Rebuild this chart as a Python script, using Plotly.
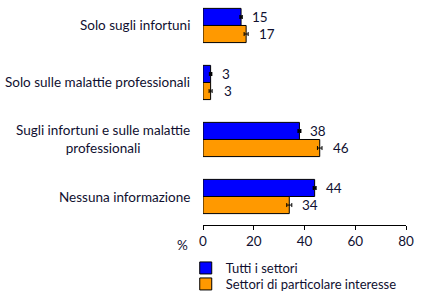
import plotly.graph_objects as go

categories = ["Solo sugli infortuni", "Solo sulle malattie professionali",
              "Sugli infortuni e sulle malattie<br>professionali", "Nessuna informazione"]
tutti = [15, 3, 38, 44]
tutti_err = [0.4, 0.4, 0.5, 0.5]
particolare = [17, 3, 46, 34]
particolare_err = [0.8, 0.6, 0.9, 1.0]
series_names = ["Tutti i settori", "Settori di particolare interesse"]
x_ticks = [0, 20, 40, 60, 80]

FONT = "Lato"
TXT = "#101030"
FS = 13.5
pos = list(range(len(categories)))

fig = go.Figure()
fig.add_trace(go.Bar(
    y=pos, x=tutti, orientation="h", name=series_names[0], legend="legend",
    marker=dict(color="#0000FF", line=dict(color="black", width=1)),
    error_x=dict(type="data", array=tutti_err, color="black", thickness=1.5, width=2),
))
fig.add_trace(go.Bar(
    y=pos, x=particolare, orientation="h", name=series_names[1], legend="legend2",
    marker=dict(color="#FF9900", line=dict(color="black", width=1)),
    error_x=dict(type="data", array=particolare_err, color="black", thickness=1, width=2),
))

ann = []
for i, (a, b) in enumerate(zip(tutti, particolare)):
    ann.append(dict(x=a, y=i - 0.15, xref="x", yref="y", text=str(a), showarrow=False,
                    xanchor="left", xshift=9, font=dict(family=FONT, size=FS, color=TXT)))
    ann.append(dict(x=b, y=i + 0.15, xref="x", yref="y", text=str(b), showarrow=False,
                    xanchor="left", xshift=11, font=dict(family=FONT, size=FS, color=TXT)))
for i, c in enumerate(categories):
    ann.append(dict(x=0, y=i, xref="paper", yref="y", text=c, showarrow=False,
                    xanchor="right", xshift=-11, align="center",
                    font=dict(family=FONT, size=FS, color=TXT)))
ann.append(dict(x=0, y=0, xref="paper", yref="paper", text="%", showarrow=False,
                xanchor="right", yanchor="top", xshift=-13, yshift=-10,
                font=dict(family=FONT, size=FS, color=TXT)))

leg_common = dict(xref="paper", yref="container", xanchor="left", yanchor="middle",
                  font=dict(family=FONT, size=13, color=TXT), itemwidth=30,
                  bgcolor="rgba(0,0,0,0)", borderwidth=0)

fig.update_layout(
    width=422, height=292,
    margin=dict(l=203, r=16, t=0, b=67, autoexpand=False),
    paper_bgcolor="white", plot_bgcolor="white",
    barmode="group", bargap=0.4, bargroupgap=0,
    font=dict(family=FONT, size=FS, color=TXT),
    showlegend=True,
    legend=dict(x=-0.085, y=1 - 268 / 292, **leg_common),
    legend2=dict(x=-0.085, y=1 - 284 / 292, **leg_common),
    annotations=ann,
    xaxis=dict(range=[0, 80], tickvals=x_ticks, showgrid=False, zeroline=False,
               showline=True, linecolor="black", linewidth=1,
               ticks="outside", ticklen=4, tickcolor="black",
               tickfont=dict(family=FONT, size=FS, color=TXT)),
    yaxis=dict(range=[3.5, -0.447], showticklabels=False, showgrid=False,
               zeroline=False, showline=False, ticks=""),
)

fig.write_html("out.html")
